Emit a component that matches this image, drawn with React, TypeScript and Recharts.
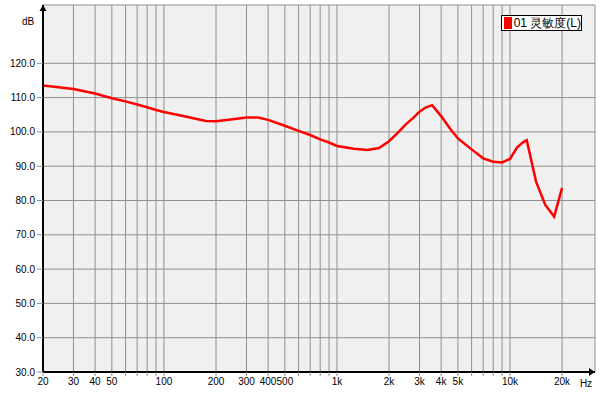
import { LineChart, Line, XAxis, YAxis, CartesianGrid, Legend } from 'recharts';

// frequency (Hz) and level (dB)
const freqs = [
  20, 30, 40, 50, 60, 70, 80, 90, 100, 125, 150, 175, 200, 250, 300, 350, 400, 500, 600,
  700, 800, 900, 1000, 1250, 1500, 1750, 2000, 2250, 2500, 2750, 3000, 3250, 3550, 4000,
  4500, 5000, 6000, 7000, 8000, 9000, 10000, 11000, 12000, 12500, 14150, 16000, 18000, 20000,
];
const levels = [
  113.5, 112.5, 111.2, 109.8, 108.9, 108.0, 107.2, 106.4, 105.8, 104.8, 103.9, 103.2, 103.1,
  103.7, 104.2, 104.2, 103.5, 101.8, 100.3, 99.1, 97.8, 96.9, 95.9, 95.1, 94.7, 95.3, 97.3,
  99.8, 102.2, 104.0, 105.9, 107.1, 107.8, 104.6, 101.0, 98.1, 94.9, 92.3, 91.3, 91.1, 92.1,
  95.5, 97.1, 97.6, 85.5, 78.7, 75.3, 83.7,
];

const xTicks = [
  20, 30, 40, 50, 60, 70, 80, 90, 100, 200, 300, 400, 500, 600, 700, 800, 900, 1000, 2000,
  3000, 4000, 5000, 6000, 7000, 8000, 9000, 10000, 20000,
];
const xLabels: Record<number, string> = {
  20: '20', 30: '30', 40: '40', 50: '50', 100: '100', 200: '200', 300: '300', 400: '400',
  500: '500', 1000: '1k', 2000: '2k', 3000: '3k', 4000: '4k', 5000: '5k', 10000: '10k',
  20000: '20k',
};
const yTicks = [30, 40, 50, 60, 70, 80, 90, 100, 110, 120];

const seriesName = '01 灵敏度(L)';
const data = freqs.map((f, i) => ({ f, v: levels[i] }));

const W = 600;
const H = 400;
const M = { top: 5, right: 5, left: 0, bottom: 0 };
const Y_W = 43;
const X_H = 28;
const GRID = '#8f8f8f';
const FONT = '"Liberation Sans", Arial, sans-serif';

function Decor() {
  const x0 = M.left + Y_W;
  const y0 = H - M.bottom - X_H;
  const x1 = W - M.right;
  const yt = M.top;
  return (
    <g>
      <path d={`M${x0},${yt} L${x0 - 3.5},${yt + 6} L${x0 + 3.5},${yt + 6} Z`} fill="#000" />
      <path d={`M${x1},${y0} L${x1 - 6},${y0 - 4} L${x1 - 6},${y0 + 4} Z`} fill="#000" />
      <text x={28} y={25} fontSize={10} fontFamily={FONT} textAnchor="middle" fill="#000">
        dB
      </text>
      <text x={586} y={387} fontSize={10} fontFamily={FONT} textAnchor="middle" fill="#000">
        Hz
      </text>
    </g>
  );
}

function LegendBox() {
  return (
    <div
      style={{
        display: 'flex',
        alignItems: 'center',
        width: 79,
        height: 14,
        border: '1px solid #000',
        background: '#fff',
        fontFamily: FONT,
        fontSize: 12,
        lineHeight: '14px',
        color: '#000',
        whiteSpace: 'nowrap',
      }}
    >
      <span style={{ width: 8, height: 12, background: '#ff0000', margin: '0 2px 0 2px' }} />
      <span>{seriesName}</span>
    </div>
  );
}

export default function App() {
  return (
    <div style={{ position: 'absolute', left: 0, top: 0, width: W, height: H, background: '#fff' }}>
      <LineChart width={W} height={H} data={data} margin={M}>
        <CartesianGrid fill="#f0f0f0" stroke={GRID} strokeOpacity={1} />
        <XAxis
          dataKey="f"
          type="number"
          scale="log"
          domain={[20, 31000]}
          allowDataOverflow
          ticks={xTicks}
          interval={0}
          height={X_H}
          tickFormatter={(v: number) => xLabels[v] ?? ''}
          tick={{ fill: '#000', fontSize: 10, fontFamily: FONT }}
          tickSize={4}
          tickLine={{ stroke: GRID }}
          axisLine={{ stroke: '#000', strokeWidth: 2 }}
        />
        <YAxis
          type="number"
          domain={[30, 137]}
          allowDataOverflow
          ticks={yTicks}
          interval={0}
          width={Y_W}
          tickFormatter={(v: number) => v.toFixed(1)}
          tick={{ fill: '#000', fontSize: 10, fontFamily: FONT }}
          tickSize={6}
          tickLine={{ stroke: GRID }}
          axisLine={{ stroke: '#000', strokeWidth: 2 }}
        />
        <Legend
          layout="vertical"
          align="center"
          verticalAlign="middle"
          wrapperStyle={{ top: 15, left: 501, width: 'auto' }}
          content={() => <LegendBox />}
        />
        <Line
          type="linear"
          dataKey="v"
          name={seriesName}
          stroke="#ff0000"
          strokeWidth={2.5}
          dot={false}
          activeDot={false}
          isAnimationActive={false}
        />
        <Decor />
      </LineChart>
    </div>
  );
}
